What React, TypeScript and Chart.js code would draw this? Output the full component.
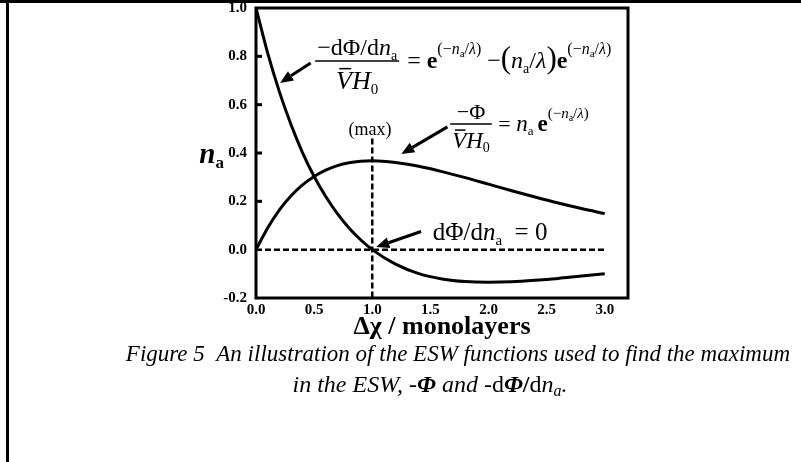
import React, { useEffect, useRef } from "react";
import { Chart, registerables } from "chart.js";

Chart.register(...registerables);

const W = 801;
const H = 462;
const SERIF = '"Liberation Serif", "Times New Roman", Times, serif';

// ---- data ----
const coverage = [0, 0.1, 0.2, 0.3, 0.4, 0.5, 0.6, 0.7, 0.8, 0.9, 1.0, 1.2, 1.4, 1.6, 1.8, 2.0, 2.2, 2.4, 2.6, 2.8, 3.0];
const phiCurve = [0, 0.090, 0.164, 0.222, 0.268, 0.303, 0.329, 0.348, 0.360, 0.366, 0.368, 0.361, 0.345, 0.323, 0.298, 0.271, 0.244, 0.218, 0.193, 0.170, 0.149];
const dPhiCurve = [1.0, 0.814, 0.655, 0.519, 0.402, 0.303, 0.220, 0.149, 0.090, 0.041, 0.0, -0.060, -0.099, -0.121, -0.132, -0.135, -0.133, -0.127, -0.119, -0.109, -0.100];

const xTickValues = [0, 0.5, 1.0, 1.5, 2.0, 2.5, 3.0];
const yTickValues = [-0.2, 0, 0.2, 0.4, 0.6, 0.8, 1.0];
const yInnerTicks = [0.2, 0.4, 0.6, 0.8];

const zeroLineX = [0, 3.0];
const zeroLineY = [0, 0];
const maxLineX = [1.0, 1.0];
const maxLineY = [0.46, -0.2];

// annotation anchors in data units
const arrow1 = [0.47, 0.772, 0.207, 0.69];
const arrow2 = [1.647, 0.508, 1.25, 0.396];
const arrow3 = [1.42, 0.075, 1.034, 0.011];
const eq1Anchor = [0.509, 0.781];
const eq2Anchor = [1.67, 0.52];
const eq3Anchor = [1.52, 0.04];
const maxLabelAnchor = [0.98, 0.475];

const xTitle = "Δχ / monolayers";
const captionLine1 = "Figure 5  An illustration of the ESW functions used to find the maximum";

type Run = { t: string; font: string; dy?: number; bar?: boolean; gap?: number };

const f = (size: number, style = "normal", weight = "normal") => `${style} ${weight} ${size}px ${SERIF}`;

function runsWidth(ctx: CanvasRenderingContext2D, runs: Run[]) {
  let w = 0;
  for (const r of runs) {
    ctx.font = r.font;
    w += ctx.measureText(r.t).width + (r.gap || 0);
  }
  return w;
}

function drawRuns(ctx: CanvasRenderingContext2D, runs: Run[], x: number, y: number) {
  let cx = x;
  for (const r of runs) {
    ctx.font = r.font;
    const m = ctx.measureText(r.t);
    ctx.fillText(r.t, cx, y + (r.dy || 0));
    if (r.bar) {
      const size = parseFloat(r.font.split("px")[0].split(" ").pop() || "20");
      ctx.save();
      ctx.lineWidth = 1.5;
      ctx.beginPath();
      ctx.moveTo(cx + m.width * 0.2, y - size * 0.78);
      ctx.lineTo(cx + m.width * 0.95, y - size * 0.78);
      ctx.stroke();
      ctx.restore();
    }
    cx += m.width + (r.gap || 0);
  }
  return cx;
}

function drawFraction(
  ctx: CanvasRenderingContext2D,
  left: number,
  barY: number,
  num: Run[],
  den: Run[],
  numGap: number,
  denGap: number
) {
  const nw = runsWidth(ctx, num);
  const dw = runsWidth(ctx, den);
  const w = Math.max(nw, dw) + 4;
  drawRuns(ctx, num, left + (w - nw) / 2, barY - numGap);
  drawRuns(ctx, den, left + (w - dw) / 2, barY + denGap);
  ctx.save();
  ctx.lineWidth = 1.5;
  ctx.beginPath();
  ctx.moveTo(left, barY);
  ctx.lineTo(left + w, barY);
  ctx.stroke();
  ctx.restore();
  return left + w;
}

function drawArrow(ctx: CanvasRenderingContext2D, x0: number, y0: number, x1: number, y1: number) {
  const ang = Math.atan2(y1 - y0, x1 - x0);
  const hl = 13;
  const hw = 5.5;
  const bx = x1 - hl * Math.cos(ang);
  const by = y1 - hl * Math.sin(ang);
  ctx.save();
  ctx.lineWidth = 3;
  ctx.strokeStyle = "#000";
  ctx.fillStyle = "#000";
  ctx.beginPath();
  ctx.moveTo(x0, y0);
  ctx.lineTo(bx, by);
  ctx.stroke();
  ctx.beginPath();
  ctx.moveTo(x1, y1);
  ctx.lineTo(bx + hw * Math.sin(ang), by - hw * Math.cos(ang));
  ctx.lineTo(bx - hw * Math.sin(ang), by + hw * Math.cos(ang));
  ctx.closePath();
  ctx.fill();
  ctx.restore();
}

const supRuns = (size: number, sub: number, dy: number): Run[] => [
  { t: "(−", font: f(size), dy },
  { t: "n", font: f(size, "italic"), dy },
  { t: "a", font: f(sub), dy: dy + 3 },
  { t: "/", font: f(size), dy },
  { t: "λ", font: f(size, "italic"), dy },
  { t: ")", font: f(size), dy },
];

const decorPlugin = {
  id: "decor",
  afterDraw(chart: any) {
    const ctx: CanvasRenderingContext2D = chart.ctx;
    const xs = chart.scales.x;
    const ys = chart.scales.y;
    const a = chart.chartArea;
    const px = (v: number) => xs.getPixelForValue(v);
    const py = (v: number) => ys.getPixelForValue(v);
    ctx.save();
    ctx.fillStyle = "#000";
    ctx.strokeStyle = "#000";
    ctx.textBaseline = "alphabetic";
    ctx.textAlign = "left";

    // page frame
    ctx.fillRect(0, 0, W, 3);
    ctx.fillRect(6, 0, 3, H);

    // plot frame
    ctx.lineWidth = 3;
    ctx.strokeRect(a.left, a.top, a.right - a.left, a.bottom - a.top);

    // inward ticks on y axis
    for (const v of yInnerTicks) {
      ctx.beginPath();
      ctx.moveTo(a.left, py(v));
      ctx.lineTo(a.left + 6, py(v));
      ctx.stroke();
    }

    // arrows
    for (const ar of [arrow1, arrow2, arrow3]) {
      drawArrow(ctx, px(ar[0]), py(ar[1]), px(ar[2]), py(ar[3]));
    }

    // equation 1
    {
      const left = px(eq1Anchor[0]);
      const barY = py(eq1Anchor[1]);
      const end = drawFraction(
        ctx,
        left,
        barY,
        [
          { t: "−dΦ/d", font: f(24) },
          { t: "n", font: f(24, "italic") },
          { t: "a", font: f(14), dy: 5 },
        ],
        [
          { t: "V", font: f(26, "italic"), bar: true },
          { t: "H", font: f(26, "italic") },
          { t: "0", font: f(15), dy: 5 },
        ],
        6,
        28
      );
      const base = barY + 7;
      drawRuns(
        ctx,
        [
          { t: " = ", font: f(24) },
          { t: "e", font: f(24, "normal", "bold") },
          ...supRuns(16, 11, -14),
          { t: " −", font: f(24) },
          { t: "(", font: f(31) },
          { t: "n", font: f(24, "italic") },
          { t: "a", font: f(14), dy: 5 },
          { t: "/", font: f(24) },
          { t: "λ", font: f(24, "italic") },
          { t: ")", font: f(31) },
          { t: "e", font: f(24, "normal", "bold") },
          ...supRuns(16, 11, -14),
        ],
        end + 2,
        base
      );
    }

    // equation 2
    {
      const left = px(eq2Anchor[0]);
      const barY = py(eq2Anchor[1]);
      const end = drawFraction(
        ctx,
        left,
        barY,
        [{ t: "−Φ", font: f(22) }],
        [
          { t: "V", font: f(23, "italic"), bar: true },
          { t: "H", font: f(23, "italic") },
          { t: "0", font: f(14), dy: 4 },
        ],
        5,
        24
      );
      const base = barY + 7;
      drawRuns(
        ctx,
        [
          { t: " = ", font: f(22) },
          { t: "n", font: f(23, "italic") },
          { t: "a", font: f(13), dy: 4, gap: 4 },
          { t: "e", font: f(23, "normal", "bold") },
          ...supRuns(15, 10, -13),
        ],
        end + 1,
        base
      );
    }

    // equation 3
    drawRuns(
      ctx,
      [
        { t: "dΦ/d", font: f(25) },
        { t: "n", font: f(25, "italic") },
        { t: "a", font: f(15), dy: 5 },
        { t: "  = 0", font: f(25) },
      ],
      px(eq3Anchor[0]),
      py(eq3Anchor[1])
    );

    // (max)
    ctx.font = f(18);
    ctx.textAlign = "center";
    ctx.fillText("(max)", px(maxLabelAnchor[0]), py(maxLabelAnchor[1]));

    // axis titles
    ctx.font = f(26, "normal", "bold");
    ctx.fillText(xTitle, (a.left + a.right) / 2, 334);
    ctx.textAlign = "left";
    const yt: Run[] = [
      { t: "n", font: f(29, "italic", "bold") },
      { t: "a", font: f(17, "normal", "bold"), dy: 5 },
    ];
    const ytw = runsWidth(ctx, yt);
    drawRuns(ctx, yt, 224 - ytw, (a.top + a.bottom) / 2 + 10);

    // caption
    ctx.font = f(23, "italic");
    ctx.textAlign = "right";
    ctx.fillText(captionLine1, 790, 361);
    ctx.textAlign = "left";
    const cap2: Run[] = [
      { t: "in the ESW, ", font: f(24, "italic") },
      { t: "-", font: f(24) },
      { t: "Φ", font: f(24, "italic", "bold") },
      { t: " and ", font: f(24, "italic") },
      { t: "-d", font: f(24) },
      { t: "Φ", font: f(24, "italic", "bold") },
      { t: "/", font: f(24, "normal", "bold") },
      { t: "d", font: f(24) },
      { t: "n", font: f(24, "italic") },
      { t: "a", font: f(16, "italic"), dy: 4 },
      { t: ".", font: f(24, "italic") },
    ];
    const c2w = runsWidth(ctx, cap2);
    drawRuns(ctx, cap2, 430 - c2w / 2, 392);
    ctx.restore();
  },
};

export default function App() {
  const ref = useRef<HTMLCanvasElement | null>(null);
  useEffect(() => {
    document.body.style.margin = "0";
    const canvas = ref.current;
    if (!canvas) return;
    const lineStyle = {
      showLine: true,
      borderColor: "#000",
      pointRadius: 0,
      fill: false,
    };
    const chart = new Chart(canvas, {
      type: "scatter",
      data: {
        datasets: [
          {
            ...lineStyle,
            data: coverage.map((x, i) => ({ x, y: dPhiCurve[i] })),
            borderWidth: 3,
            cubicInterpolationMode: "monotone",
          },
          {
            ...lineStyle,
            data: coverage.map((x, i) => ({ x, y: phiCurve[i] })),
            borderWidth: 3,
            cubicInterpolationMode: "monotone",
          },
          {
            ...lineStyle,
            data: zeroLineX.map((x, i) => ({ x, y: zeroLineY[i] })),
            borderWidth: 2.5,
            borderDash: [6, 3],
          },
          {
            ...lineStyle,
            data: maxLineX.map((x, i) => ({ x, y: maxLineY[i] })),
            borderWidth: 2.5,
            borderDash: [6, 3],
          },
        ],
      } as any,
      options: {
        animation: false,
        responsive: false,
        devicePixelRatio: 1,
        events: [],
        layout: { padding: { left: 0, top: 8, right: W - 628, bottom: 0 } },
        plugins: { legend: { display: false }, tooltip: { enabled: false }, title: { display: false } },
        scales: {
          x: {
            type: "linear",
            min: 0,
            max: 3.2,
            grid: { display: false, drawTicks: false },
            border: { display: false },
            afterFit: (s: any) => {
              s.height = H - 298;
              s.paddingLeft = 0;
              s.paddingRight = 0;
            },
            afterBuildTicks: (s: any) => {
              s.ticks = xTickValues.map((v) => ({ value: v }));
            },
            ticks: {
              color: "#000",
              padding: 3,
              autoSkip: false,
              maxRotation: 0,
              font: { family: SERIF, weight: "bold", size: 15 },
              callback: (v: any) => Number(v).toFixed(1),
            },
          },
          y: {
            type: "linear",
            min: -0.2,
            max: 1.0,
            grid: { display: false, drawTicks: false },
            border: { display: false },
            afterFit: (s: any) => {
              s.width = 256;
              s.paddingTop = 0;
              s.paddingBottom = 0;
            },
            afterBuildTicks: (s: any) => {
              s.ticks = yTickValues.map((v) => ({ value: v }));
            },
            ticks: {
              color: "#000",
              padding: 9,
              autoSkip: false,
              font: { family: SERIF, weight: "bold", size: 15 },
              callback: (v: any) => Number(v).toFixed(1),
            },
          },
        },
      } as any,
      plugins: [decorPlugin],
    });
    return () => chart.destroy();
  }, []);
  return (
    <div style={{ position: "absolute", left: 0, top: 0, width: W, height: H, background: "#fff" }}>
      <canvas ref={ref} width={W} height={H} style={{ width: W, height: H, display: "block" }} />
    </div>
  );
}
